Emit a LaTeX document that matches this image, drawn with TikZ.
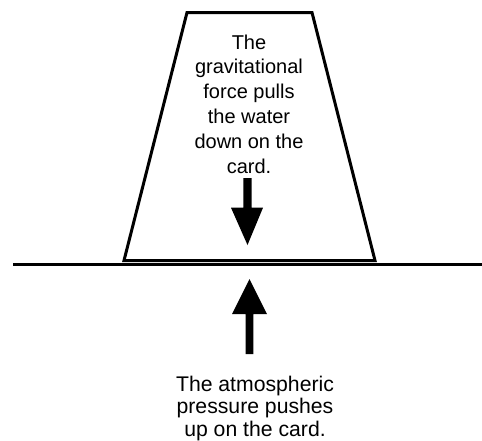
\documentclass[tikz,border=0pt]{standalone}
\usepackage{fontspec}
\setmainfont{Liberation Sans}
\begin{document}
\begin{tikzpicture}[x=1pt,y=-1pt,
  outline/.style={line width=3pt,line join=miter},
  forcearrow/.style={fill=black,draw=none},
  label/.style={align=center,inner sep=0pt,anchor=north}]
\useasboundingbox (0,0) rectangle (482,440);
% glass (trapezoid)
\coordinate (tl) at (187,12.5);
\coordinate (tr) at (312,12.5);
\coordinate (br) at (375,260.5);
\coordinate (bl) at (124,260.5);
\draw[outline] (tl) -- (tr) -- (br) -- (bl) -- cycle;
% card / table line
\coordinate (l0) at (13,264.5);
\coordinate (l1) at (482,264.5);
\draw[line width=3.5pt] (l0) -- (l1);
% down arrow
\fill[forcearrow] (243.3,178) -- (251.7,178) -- (251.7,207.7) -- (263,207.7) -- (247.5,245) -- (231,207.7) -- (243.3,207.7) -- cycle;
% up arrow
\fill[forcearrow] (245.7,354) -- (253.3,354) -- (253.3,314) -- (267,314) -- (249.5,279) -- (232,314) -- (245.7,314) -- cycle;
% texts
\node[label,font=\fontsize{20}{24.8}\selectfont] (top) at (249,34.5) {The\\gravitational\\force pulls\\the water\\down on the\\card.};
\node[label,font=\fontsize{21.2}{22.5}\selectfont] (bot) at (255,375.5) {The atmospheric\\pressure pushes\\up on the card.};
\end{tikzpicture}
\end{document}
